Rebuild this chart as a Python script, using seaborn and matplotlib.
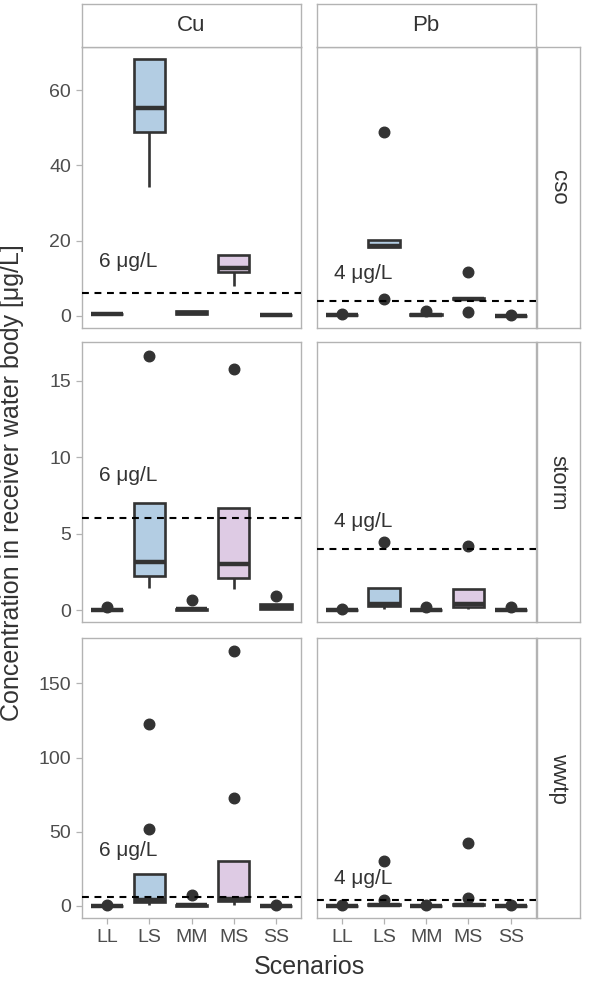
import numpy as np
import pandas as pd
import matplotlib
matplotlib.use("Agg")
import matplotlib.pyplot as plt
import seaborn as sns

# ---------------- data ----------------
scenarios = ["LL", "LS", "MM", "MS", "SS"]
metals = ["Cu", "Pb"]
sources = ["cso", "storm", "wwtp"]
palette_colors = ["#FBB4AE", "#B3CDE3", "#CCEBC5", "#DECBE4", "#FED9A6"]

# box summaries per scenario: (whisker low, Q1, median, Q3, whisker high)
cu_cso = [(0.4, 0.45, 0.5, 0.55, 0.6), (34.2, 48.9, 55.3, 68.2, 68.2),
          (0.4, 0.5, 0.9, 1.3, 1.4), (8.0, 11.6, 12.8, 16.1, 16.1),
          (0.1, 0.2, 0.25, 0.3, 0.35)]
cu_cso_out = [[], [], [], [], []]
pb_cso = [(0.1, 0.2, 0.25, 0.3, 0.35), (18.3, 18.4, 18.7, 20.1, 20.1),
          (0.1, 0.2, 0.3, 0.4, 0.4), (4.4, 4.5, 4.6, 4.7, 4.8),
          (0.0, 0.05, 0.08, 0.1, 0.12)]
pb_cso_out = [[0.6], [4.6, 49.0], [1.4], [1.06, 11.6], [0.3]]

cu_storm = [(0.0, 0.0, 0.02, 0.04, 0.05), (1.44, 2.26, 3.18, 7.03, 7.03),
            (0.0, 0.03, 0.06, 0.09, 0.1), (1.37, 2.13, 3.0, 6.67, 6.67),
            (0.09, 0.12, 0.25, 0.39, 0.39)]
cu_storm_out = [[0.23], [16.6], [0.67], [15.75], [0.95]]
pb_storm = [(0.0, 0.0, 0.01, 0.02, 0.03), (0.08, 0.28, 0.43, 1.48, 1.48),
            (0.0, 0.01, 0.02, 0.03, 0.04), (0.1, 0.25, 0.4, 1.37, 1.37),
            (0.0, 0.01, 0.02, 0.03, 0.04)]
pb_storm_out = [[0.1], [4.44], [0.23], [4.2], [0.23]]

cu_wwtp = [(0.0, 0.1, 0.2, 0.3, 0.4), (0.5, 2.9, 4.0, 21.4, 21.4),
           (0.1, 0.3, 0.5, 0.8, 1.0), (0.8, 3.6, 5.0, 30.5, 30.5),
           (0.0, 0.1, 0.2, 0.3, 0.4)]
cu_wwtp_out = [[1.0], [51.9, 122.6], [7.4], [73.0, 172.0], [0.8]]
pb_wwtp = [(0.0, 0.1, 0.2, 0.3, 0.4), (0.3, 0.6, 1.0, 1.5, 1.7),
           (0.0, 0.1, 0.2, 0.3, 0.4), (0.3, 0.6, 1.0, 1.5, 1.7),
           (0.0, 0.1, 0.2, 0.3, 0.4)]
pb_wwtp_out = [[1.0], [4.0, 30.5], [0.9], [5.6, 42.7], [0.9]]

limits = [6, 4]                      # Cu, Pb guideline values
limit_labels = ["6 μg/L", "4 μg/L"]
label_y_cu = [14.4, 8.8, 37.7]
label_y_pb = [11.4, 5.8, 18.7]
row_ticks = [[0, 20, 40, 60], [0, 5, 10, 15], [0, 50, 100, 150]]
row_ylim = [(-3.3, 71.4), (-0.78, 17.5), (-8.3, 180.4)]


def expand(stats, outs):
    """Observations whose box-plot statistics equal the given summary."""
    lo, q1, med, q3, hi = stats
    low = sorted(o for o in outs if o < lo)
    high = sorted(o for o in outs if o > hi)
    head = low + [lo] * (3 - len(low))
    tail = [q3] * (2 - len(high)) + [hi] + high
    return head + [q1] + [med] * 5 + [q3] + tail


panel_data = {
    ("cso", "Cu"): (cu_cso, cu_cso_out), ("cso", "Pb"): (pb_cso, pb_cso_out),
    ("storm", "Cu"): (cu_storm, cu_storm_out), ("storm", "Pb"): (pb_storm, pb_storm_out),
    ("wwtp", "Cu"): (cu_wwtp, cu_wwtp_out), ("wwtp", "Pb"): (pb_wwtp, pb_wwtp_out),
}
records = []
for (src, met), (stats, outs) in panel_data.items():
    for i, sc in enumerate(scenarios):
        for v in expand(stats[i], outs[i]):
            records.append({"source": src, "metal": met, "scenario": sc, "value": v})
df = pd.DataFrame(records)

# ---------------- style ----------------
sns.set_theme(style="white")
plt.rcParams["font.family"] = ["Liberation Sans", "DejaVu Sans"]

W, H = 597, 981
fig = plt.figure(figsize=(W / 100, H / 100), dpi=100)
fig.patch.set_facecolor("white")


def px_axes(x0, y0, x1, y1):
    return fig.add_axes([x0 / W, 1 - y1 / H, (x1 - x0) / W, (y1 - y0) / H])


BORDER = "#B3B3B3"
DARK = "#333333"
col_x = [(82, 301), (316.5, 536)]
row_y = [(47.3, 328.3), (342.3, 622.3), (638.3, 918.3)]
label_ys = [label_y_cu, label_y_pb]

for r, src in enumerate(sources):
    for c, met in enumerate(metals):
        x0, x1 = col_x[c]
        y0, y1 = row_y[r]
        ax = px_axes(x0, y0, x1, y1)
        sub = df[(df.source == src) & (df.metal == met)]
        sns.boxplot(data=sub, x="scenario", y="value", hue="scenario",
                    order=scenarios, hue_order=scenarios, palette=palette_colors,
                    saturation=1, legend=False, width=0.75, linecolor=DARK,
                    linewidth=1.9, whis=1.5, fliersize=7.6,
                    flierprops=dict(marker="o", markerfacecolor=DARK,
                                    markeredgecolor=DARK),
                    medianprops=dict(linewidth=3.2, color=DARK),
                    ax=ax)
        for cont in ax.containers:
            if hasattr(cont, "caps"):
                for cap in cont.caps:
                    cap.set_visible(False)
        ax.axhline(limits[c], color="black", lw=1.5, ls=(0, (3.3, 2.7)), zorder=5)
        ax.text(0.5, label_ys[c][r], limit_labels[c], ha="center", va="center",
                fontsize=15, color=DARK, zorder=6)
        ax.set_xlim(-0.6, 4.6)
        ax.set_ylim(*row_ylim[r])
        ax.set_xlabel("")
        ax.set_ylabel("")
        ax.set_facecolor("white")
        for sp in ax.spines.values():
            sp.set_color(BORDER)
            sp.set_linewidth(1.0)
        ax.set_yticks(row_ticks[r])
        ax.tick_params(axis="both", colors=BORDER, labelcolor="#4D4D4D",
                       labelsize=14, length=4.5, width=0.9, pad=3.5)
        ax.tick_params(axis="x", bottom=(r == 2), labelbottom=(r == 2))
        ax.tick_params(axis="y", left=(c == 0), labelleft=(c == 0))
        ax.grid(False)

# strips
def strip(x0, y0, x1, y1, text, rot):
    a = px_axes(x0, y0, x1, y1)
    a.set_xticks([])
    a.set_yticks([])
    a.set_facecolor("white")
    for sp in a.spines.values():
        sp.set_color(BORDER)
        sp.set_linewidth(1.0)
    a.text(0.5, 0.5, text, transform=a.transAxes, ha="center", va="center",
           rotation=rot, fontsize=16, color=DARK)

for c, met in enumerate(metals):
    strip(col_x[c][0], 4.3, col_x[c][1], 46.7, met, 0)
for r, src in enumerate(sources):
    strip(537, row_y[r][0], 579.5, row_y[r][1], src, -90)

fig.text(309 / W, 1 - 967 / H, "Scenarios", ha="center", va="center",
         fontsize=18, color=DARK)
fig.text(12 / W, 1 - 482.8 / H, "Concentration in receiver water body [μg/L]",
         ha="center", va="center", rotation=90, fontsize=18, color=DARK)

fig.savefig("out.png", dpi=100, facecolor="white")
